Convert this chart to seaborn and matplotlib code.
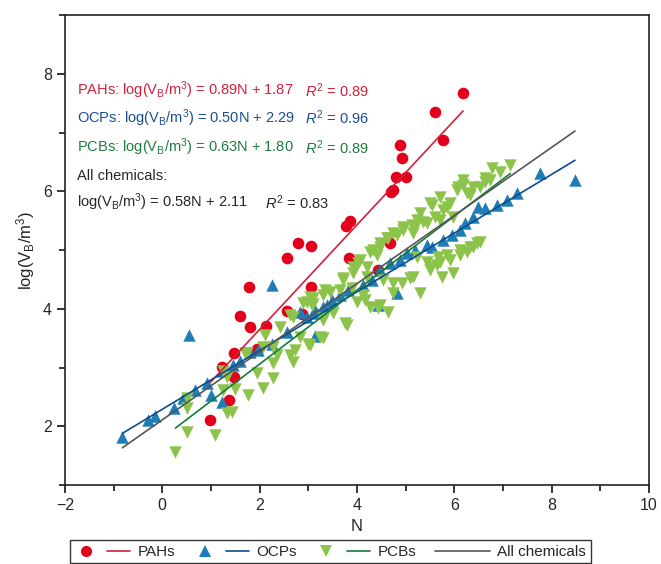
import numpy as np
import pandas as pd
import matplotlib
matplotlib.use("Agg")
import matplotlib.pyplot as plt
import seaborn as sns
from matplotlib.lines import Line2D
from matplotlib.legend_handler import HandlerTuple
from matplotlib.ticker import MultipleLocator

# ---------------- data ----------------
pah_x = [6.18, 5.61, 5.77, 4.89, 4.93, 4.80, 5.01, 4.70, 4.75, 3.86, 3.78, 3.84,
         2.79, 3.06, 2.57, 1.79, 1.60, 1.81, 2.14, 3.06, 2.57, 2.87, 1.48, 1.48,
         1.23, 1.38, 0.99, 1.95, 4.68, 4.44]
pah_y = [7.67, 7.36, 6.87, 6.79, 6.57, 6.24, 6.24, 5.99, 6.02, 5.49, 5.41, 4.86,
         5.12, 5.07, 4.86, 4.37, 3.88, 3.69, 3.70, 4.37, 3.96, 3.91, 3.24, 2.84,
         3.01, 2.44, 2.10, 3.31, 5.12, 4.66]

ocp_x = [-0.82, -0.29, -0.14, 0.23, 0.43, 0.68, 0.92, 1.01, 1.23, 0.55, 1.23, 1.46,
         1.60, 1.97, 1.81, 2.26, 2.57, 2.83, 3.14, 3.10, 3.39, 2.26, 3.31, 3.49,
         3.66, 3.82, 4.13, 4.31, 4.48, 4.68, 4.89, 5.03, 5.20, 5.44, 5.54, 5.95,
         6.12, 6.39, 6.49, 6.63, 6.88, 7.08, 7.29, 7.76, 8.48, 4.83, 4.44, 2.98,
         3.14, 5.77, 6.22]
ocp_y = [1.81, 2.10, 2.17, 2.31, 2.49, 2.61, 2.73, 2.53, 2.41, 3.55, 2.95, 3.04,
         3.12, 3.30, 3.26, 3.41, 3.60, 3.94, 3.53, 3.93, 4.06, 4.40, 4.03, 4.15,
         4.23, 4.32, 4.40, 4.49, 4.66, 4.78, 4.83, 4.95, 5.00, 5.09, 5.05, 5.26,
         5.34, 5.56, 5.73, 5.72, 5.77, 5.85, 5.97, 6.31, 6.19, 4.27, 4.06, 3.86,
         3.98, 5.17, 5.46]

pcb_x = [0.27, 0.51, 1.09, 0.51, 0.51, 1.33, 1.44, 1.25, 1.50, 1.77, 2.07, 1.95,
         2.28, 2.28, 1.33, 1.25, 1.75, 2.12, 2.42, 2.63, 2.69, 2.83, 3.04, 3.31,
         2.98, 3.10, 3.51, 3.80, 4.00, 2.07, 2.28, 2.36, 2.73, 2.69, 3.08, 1.70,
         3.72, 3.92, 4.02, 3.35, 3.45, 3.04, 2.90, 2.63, 3.31, 3.76, 3.24, 3.00,
         3.31, 3.66, 3.31, 3.10, 4.13, 4.44, 4.17, 4.27, 4.48, 4.64, 4.74, 4.93,
         5.09, 5.30, 5.50, 5.65, 5.75, 5.98, 6.12, 6.26, 6.39, 6.53, 5.91, 5.44,
         5.67, 4.74, 4.54, 5.15, 5.24, 4.07, 3.92, 4.21, 3.90, 3.72, 4.21, 4.41,
         4.27, 4.48, 4.64, 4.83, 5.15, 4.95, 5.20, 5.44, 5.24, 5.30, 5.71, 5.98,
         6.32, 6.06, 6.18, 6.53, 6.63, 6.74, 5.54, 5.85, 5.71, 7.15, 6.78, 6.94,
         6.63, 6.18, 6.08, 6.39, 6.26, 5.91, 5.50, 5.77, 5.61, 5.36, 5.13, 4.74,
         4.62, 4.33, 6.47, 6.32, 6.12, 5.85, 5.71, 5.50, 4.95, 4.48]
pcb_y = [1.56, 1.90, 1.85, 2.31, 2.49, 2.22, 2.24, 2.61, 2.63, 2.53, 2.65, 2.90,
         2.82, 3.07, 2.84, 2.95, 3.24, 3.55, 3.69, 3.21, 3.09, 3.52, 3.38, 3.50,
         4.11, 4.08, 3.93, 3.72, 4.11, 3.35, 3.35, 3.21, 3.30, 3.86, 4.06, 3.24,
         4.52, 4.61, 4.78, 4.32, 4.28, 4.20, 4.10, 3.89, 3.84, 3.76, 3.52, 3.41,
         3.81, 4.32, 4.23, 4.18, 4.23, 4.01, 4.15, 4.03, 4.06, 3.94, 4.27, 4.44,
         4.52, 4.27, 4.66, 4.74, 4.54, 4.61, 4.91, 4.97, 5.05, 5.14, 4.83, 4.80,
         4.88, 4.44, 4.49, 4.54, 4.88, 4.83, 4.71, 4.54, 4.35, 4.49, 4.71, 4.91,
         4.97, 5.05, 5.20, 5.26, 5.29, 5.34, 5.39, 5.46, 5.51, 5.63, 5.51, 5.56,
         5.94, 6.02, 6.11, 6.07, 6.16, 6.19, 5.77, 5.73, 5.90, 6.45, 6.40, 6.33,
         6.23, 6.19, 6.07, 6.07, 5.97, 5.80, 5.80, 5.68, 5.56, 5.48, 5.43, 5.29,
         5.20, 5.00, 5.12, 5.05, 5.00, 4.91, 4.80, 4.71, 5.39, 5.12]

fit_groups = ["PAHs", "OCPs", "PCBs", "All chemicals"]
fit_slope = [0.89, 0.50, 0.63, 0.58]
fit_intercept = [1.87, 2.29, 1.80, 2.11]
fit_r2 = [0.89, 0.96, 0.89, 0.83]

x_ticks = [-2, 0, 2, 4, 6, 8, 10]
y_ticks = [2, 4, 6, 8]

# ---------------- style ----------------
sns.set_style("ticks")
plt.rcParams["font.family"] = ["Liberation Sans", "DejaVu Sans"]
plt.rcParams["mathtext.fontset"] = "custom"
plt.rcParams["mathtext.rm"] = "Liberation Sans"
plt.rcParams["mathtext.it"] = "Liberation Sans:italic"
plt.rcParams["mathtext.default"] = "regular"

mk_col = {"PAHs": "#E2001A", "OCPs": "#1F7DB6", "PCBs": "#8CC34B"}
ln_col = {"PAHs": "#D2203A", "OCPs": "#0D4C8C", "PCBs": "#137B3B", "All chemicals": "#555555"}
tx_col = {"PAHs": "#D2203A", "OCPs": "#1A4F8F", "PCBs": "#1E7C3F", "All chemicals": "black"}

fig = plt.figure(figsize=(6.61, 5.64), dpi=100)
ax = fig.add_axes([0.0983, 0.140, 0.8835, 0.833])

df = pd.concat([
    pd.DataFrame({"N": pah_x, "logV": pah_y, "group": "PAHs"}),
    pd.DataFrame({"N": ocp_x, "logV": ocp_y, "group": "OCPs"}),
    pd.DataFrame({"N": pcb_x, "logV": pcb_y, "group": "PCBs"}),
], ignore_index=True)

markers = {"PAHs": "o", "OCPs": "^", "PCBs": "v"}
sizes = {"PAHs": 70, "OCPs": 80, "PCBs": 80}
for g in ["PAHs", "OCPs", "PCBs"]:
    sub = df[df["group"] == g]
    sns.scatterplot(data=sub, x="N", y="logV", marker=markers[g], color=mk_col[g],
                    s=sizes[g], linewidth=0, legend=False, ax=ax, zorder=2)

# regression lines over each group's N range
for g, m, b in zip(fit_groups, fit_slope, fit_intercept):
    sub = df if g == "All chemicals" else df[df["group"] == g]
    xs = np.array([sub["N"].min(), sub["N"].max()])
    sns.lineplot(x=xs, y=m * xs + b, color=ln_col[g], lw=1.2, ax=ax, zorder=3)

ax.set_xlim(-2, 10)
ax.set_ylim(1, 9)
ax.set_xticks(x_ticks)
ax.set_yticks(y_ticks)
ax.xaxis.set_minor_locator(MultipleLocator(1))
ax.yaxis.set_minor_locator(MultipleLocator(1))
ax.tick_params(which="major", direction="out", length=6, width=1.1, labelsize=11.5, color="black")
ax.tick_params(which="minor", direction="out", length=4, width=1.1, color="black")
for sp in ax.spines.values():
    sp.set_linewidth(1.2)
    sp.set_color("#222222")
ax.set_xlabel("N", fontsize=12)
ax.set_ylabel(r"log(V$_\mathregular{B}$/m$^\mathregular{3}$)", fontsize=12)

# equations
eq_y = [0.840, 0.781, 0.719]
for g, m, b, r2, yy in zip(fit_groups[:3], fit_slope, fit_intercept, fit_r2, eq_y):
    ax.text(0.021, yy, g + r": log(V$_\mathregular{B}$/m$^\mathregular{3}$) = " + f"{m:.2f}N + {b:.2f}",
            transform=ax.transAxes, color=tx_col[g], fontsize=10.5, va="center")
    ax.text(0.411, yy, r"$\mathit{R}^\mathregular{2}$" + f" = {r2:.2f}",
            transform=ax.transAxes, color=tx_col[g], fontsize=10.5, va="center")
ax.text(0.021, 0.657, "All chemicals:", transform=ax.transAxes, fontsize=10.5, va="center")
ax.text(0.021, 0.602, r"log(V$_\mathregular{B}$/m$^\mathregular{3}$) = " + f"{fit_slope[3]:.2f}N + {fit_intercept[3]:.2f}",
        transform=ax.transAxes, fontsize=10.5, va="center")
ax.text(0.342, 0.602, r"$\mathit{R}^\mathregular{2}$" + f" = {fit_r2[3]:.2f}",
        transform=ax.transAxes, fontsize=10.5, va="center")

# legend
handles = []
for g in ["PAHs", "OCPs", "PCBs"]:
    handles.append((Line2D([], [], marker=markers[g], color=mk_col[g], ls="none", ms=8, mew=0),
                    Line2D([], [], color=ln_col[g], lw=1.2)))
handles.append(Line2D([], [], color=ln_col["All chemicals"], lw=1.2))
leg = fig.legend(handles, fit_groups, loc="upper center", bbox_to_anchor=(0.5, 0.042),
                 ncol=4, frameon=True, fancybox=False, edgecolor="black", fontsize=11,
                 handler_map={tuple: HandlerTuple(ndivide=None, pad=0.6)},
                 handlelength=3.6, handletextpad=0.5, columnspacing=1.2, borderpad=0.3,
                 borderaxespad=0)
leg.get_frame().set_linewidth(1.0)

fig.savefig("out.png", dpi=100)
